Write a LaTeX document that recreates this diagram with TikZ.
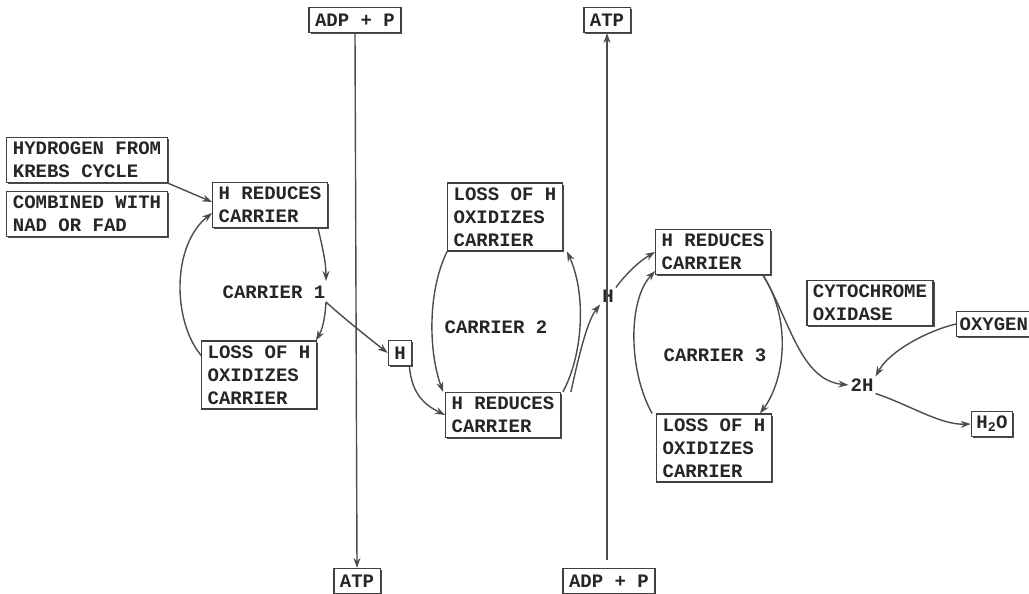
\documentclass[tikz,border=0pt]{standalone}
\usepackage{fontspec}
\setmainfont{Liberation Mono}
\usetikzlibrary{arrows.meta,shadows}
\begin{document}
\begin{tikzpicture}[x=1pt,y=-1pt,
  every node/.style={font=\fontsize{19}{23}\selectfont\bfseries, text=black!85},
  box/.style={draw=black!75, line width=1.2pt, fill=white, align=left, inner xsep=6pt, inner ysep=4.5pt,
    general shadow={shadow xshift=1.5pt, shadow yshift=-1.5pt, fill=black!70}},
  one/.style={minimum height=25pt, inner ysep=1pt},
  lbl/.style={inner sep=2pt},
  arr/.style={draw=black!70, line width=1.4pt, -{Stealth[length=10pt,width=7pt]}},
  ln/.style={draw=black!70, line width=1.4pt}]
\useasboundingbox (0,0) rectangle (1029,594);
% top / bottom boxes
\node[box,one] (adpT) at (355,20) {ADP + P};
\node[box,one] (atpT) at (607,20) {ATP};
\node[box,one] (atpB) at (357,581) {ATP};
\node[box,one] (adpB) at (609,581) {ADP + P};
% left side
\node[box, minimum width=159pt] (krebs) at (87,160) {HYDROGEN FROM\\KREBS CYCLE};
\node[box, minimum width=159pt] (nad) at (87,214) {COMBINED WITH\\NAD OR FAD};
\node[box] (red1) at (270,205) {H REDUCES\\CARRIER};
\node[lbl] (c1) at (274,292) {CARRIER 1};
\node[box] (ox1) at (259,375) {LOSS OF H\\OXIDIZES\\CARRIER};
\node[box, one, inner xsep=6pt] (h1) at (400,353) {H};
% carrier 2
\node[box] (ox2) at (505,217) {LOSS OF H\\OXIDIZES\\CARRIER};
\node[lbl] (c2) at (496,327) {CARRIER 2};
\node[box] (red2) at (503,415) {H REDUCES\\CARRIER};
\node[lbl] (h2) at (608,296) {H};
% carrier 3
\node[box] (red3) at (713,252) {H REDUCES\\CARRIER};
\node[lbl] (c3) at (715,355) {CARRIER 3};
\node[box] (ox3) at (714,448) {LOSS OF H\\OXIDIZES\\CARRIER};
\node[box] (cyt) at (870,303) {CYTOCHROME\\OXIDASE};
\node[box, one, inner xsep=3pt, anchor=west] (oxy) at (956,324) {OXYGEN};
\node[box, one, inner xsep=5pt] (water) at (992,424) {H\textsubscript{2}O};
\node[lbl] (h2h) at (862,385) {2H};
\coordinate (c1in) at (326,281);
\coordinate (c1out) at (326,302);
\coordinate (adpTop) at (607,560);
% vertical lines
\draw[arr] (adpT.south) -- (atpB.north);
\draw[arr] (adpTop) -- (atpT.south);
% carrier 1 cycle
\draw[arr] (krebs.south east) -- ([yshift=3pt]red1.west);
\draw[arr] ([yshift=-15pt]ox1.north west) .. controls (172,320) and (172,245) .. ([yshift=-8pt]red1.west);
\draw[arr] ([xshift=-10pt]red1.south east) .. controls (322,245) and (326,262) .. (c1in);
\draw[arr] (c1out) .. controls (325,320) and (322,330) .. ([xshift=-1pt]ox1.north east);
\draw[arr] (c1out) .. controls (340,315) and (365,335) .. (h1.west);
% carrier 2 cycle
\draw[arr] ([xshift=-3pt]h1.south east) .. controls (412,395) and (425,405) .. (red2.west);
\draw[arr] (ox2.south west) .. controls (428,290) and (428,350) .. ([xshift=-2pt]red2.north west);
\draw[arr] ([xshift=2pt]red2.north east) .. controls (585,350) and (585,290) .. ([xshift=4pt]ox2.south east);
\draw[arr] ([xshift=10pt]red2.north east) .. controls (580,350) and (588,320) .. (h2.south west);
% carrier 3 cycle
\draw[arr] (h2.north east) .. controls (625,275) and (638,262) .. (red3.west);
\draw[arr] ([xshift=-4pt]ox3.north west) .. controls (628,370) and (628,300) .. ([yshift=4pt]red3.south west);
\draw[arr] ([xshift=-8pt]red3.south east) .. controls (792,320) and (785,380) .. ([xshift=-12pt]ox3.north east);
\draw[arr] ([xshift=-8pt]red3.south east) .. controls (790,320) and (800,380) .. (h2h.west);
\draw[arr] (oxy.west) .. controls (930,330) and (890,350) .. (h2h.north east);
\draw[arr] (h2h.south east) .. controls (910,405) and (940,425) .. (water.west);
\end{tikzpicture}
\end{document}
